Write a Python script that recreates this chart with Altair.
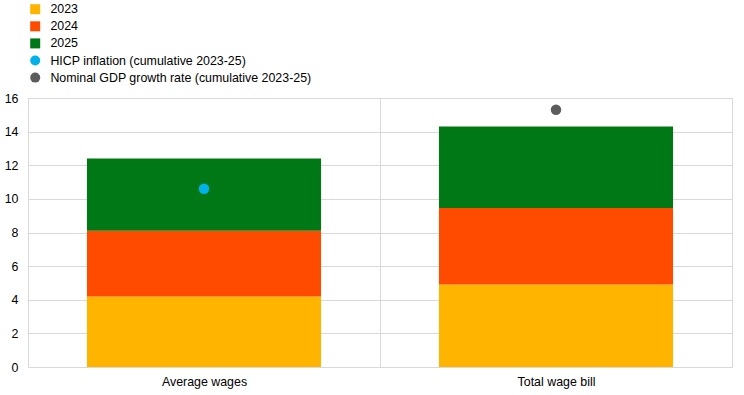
import altair as alt
import pandas as pd

# Cumulative wage growth decomposition, 2023-25 (percentages)
categories = ["Average wages", "Total wage bill"]
years = ["2023", "2024", "2025"]
growth_2023 = [4.2, 4.9]
growth_2024 = [3.9, 4.55]
growth_2025 = [4.3, 4.85]

marker_names = ["HICP inflation (cumulative 2023-25)", "Nominal GDP growth rate (cumulative 2023-25)"]
marker_categories = ["Average wages", "Total wage bill"]
marker_values = [10.6, 15.3]

y_ticks = [0, 2, 4, 6, 8, 10, 12, 14, 16]

series_domain = years + marker_names
series_colors = ["#ffb400", "#ff4b00", "#007816", "#00b1ea", "#5c5c5c"]
series_shapes = ["square", "square", "square", "circle", "circle"]

rows = []
for i, cat in enumerate(categories):
    for j, (yr, vals) in enumerate(zip(years, [growth_2023, growth_2024, growth_2025])):
        rows.append({"category": cat, "series": yr, "value": vals[i], "order": j})
bars_df = pd.DataFrame(rows)

points_df = pd.DataFrame({
    "category": marker_categories,
    "series": marker_names,
    "value": marker_values,
})

FONT = "Liberation Sans"
FONT_SIZE = 12.4

x_axis = alt.Axis(
    labelAngle=0, ticks=False, domain=False, grid=True, tickBand="extent",
    gridColor="#d9d9d9", labelPadding=8, labelFontSize=FONT_SIZE,
    labelColor="#000000", labelFont=FONT,
)
y_axis = alt.Axis(
    values=y_ticks, ticks=False, domain=False, labelOverlap=False,
    gridColor="#d9d9d9", labelPadding=10, labelFontSize=FONT_SIZE,
    labelColor="#000000", labelFont=FONT,
)
x_scale = alt.Scale(paddingInner=0, paddingOuter=0)
y_scale = alt.Scale(domain=[0, 16], nice=False)
color_scale = alt.Scale(domain=series_domain, range=series_colors)

bars = alt.Chart(bars_df).mark_bar(width=alt.RelativeBandSize(0.665)).encode(
    x=alt.X("category:N", sort=categories, title=None, scale=x_scale, axis=x_axis),
    y=alt.Y("value:Q", stack="zero", title=None, scale=y_scale, axis=y_axis),
    color=alt.Color(
        "series:N", title=None, scale=color_scale,
        legend=alt.Legend(
            orient="none", legendX=1, legendY=-95, symbolSize=100,
            labelFontSize=FONT_SIZE, labelFont=FONT, labelColor="#000000",
            rowPadding=4.1, labelOffset=9, symbolStrokeWidth=0, labelLimit=0,
        ),
    ),
    order=alt.Order("order:Q"),
)

points = alt.Chart(points_df).mark_point(filled=True, size=110, opacity=1).encode(
    x=alt.X("category:N", sort=categories, title=None, scale=x_scale, axis=x_axis),
    y=alt.Y("value:Q", title=None, scale=y_scale, axis=y_axis),
    color=alt.Color("series:N", scale=color_scale),
    shape=alt.Shape("series:N", title=None,
                    scale=alt.Scale(domain=series_domain, range=series_shapes)),
)

chart = (
    alt.layer(bars, points)
    .properties(
        width=704, height=269,
        padding={"left": 28, "top": 98, "right": 12, "bottom": 28},
        autosize=alt.AutoSizeParams(type="none"),
    )
    .configure_view(stroke="#d9d9d9")
    .configure(background="white")
)

chart.save("out.html", embed_options={"renderer": "svg", "actions": False})
